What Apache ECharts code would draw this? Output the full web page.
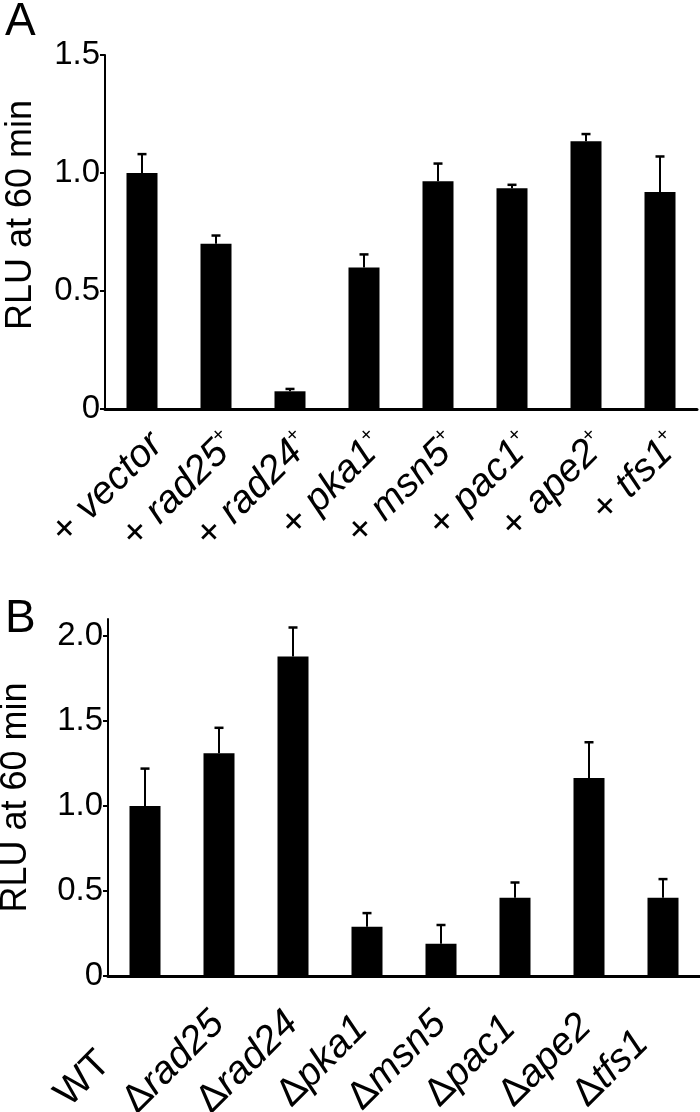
<!DOCTYPE html>
<html>
<head>
<meta charset="utf-8">
<script src="https://cdn.jsdelivr.net/npm/echarts@6/dist/echarts.min.js"></script>
<style>html,body{margin:0;padding:0;background:#fff}#c{width:700px;height:1112px}</style>
</head>
<body>
<div id="c"></div>
<script>
// Panel A
const genesA = ['vector', 'rad25', 'rad24', 'pka1', 'msn5', 'pac1', 'ape2', 'tfs1'];
const valuesA = [1.00, 0.70, 0.075, 0.60, 0.965, 0.935, 1.135, 0.92];
const errorsA = [0.08, 0.035, 0.01, 0.055, 0.075, 0.015, 0.03, 0.15];
const ticksA = [0, 0.5, 1.0, 1.5];
// Panel B
const genesB = ['WT', 'rad25', 'rad24', 'pka1', 'msn5', 'pac1', 'ape2', 'tfs1'];
const valuesB = [1.00, 1.31, 1.88, 0.29, 0.19, 0.46, 1.165, 0.46];
const errorsB = [0.22, 0.15, 0.17, 0.08, 0.11, 0.09, 0.21, 0.11];
const ticksB = [0, 0.5, 1.0, 1.5, 2.0];
const yTitle = 'RLU at 60 min';

const FONT = 'Liberation Sans, Arial, sans-serif';
const LBL = 39;
const chart = echarts.init(document.getElementById('c'), null, {renderer: 'canvas'});

function fmtTick(v) { return v === 0 ? '0' : v.toFixed(1); }

function errSeries(xi, yi, vals, errs) {
  return {
    type: 'custom', xAxisIndex: xi, yAxisIndex: yi, z: 3,
    data: vals.map((v, i) => [i, v, v + errs[i]]),
    renderItem: function (params, api) {
      const base = api.coord([api.value(0), api.value(1)]);
      const top = api.coord([api.value(0), api.value(2)]);
      const hw = 4.5;
      return {
        type: 'group',
        children: [
          {type: 'line', shape: {x1: base[0], y1: base[1], x2: top[0], y2: top[1]}, style: {stroke: '#000', lineWidth: 2}},
          {type: 'line', shape: {x1: top[0] - hw, y1: top[1], x2: top[0] + hw, y2: top[1]}, style: {stroke: '#000', lineWidth: 2.5}}
        ]
      };
    }
  };
}

// measure label widths so panel B labels can start-align inside a fixed box
const mctx = document.createElement('canvas').getContext('2d');
function textW(t, italic) {
  mctx.font = (italic ? 'italic ' : '') + LBL + 'px "Liberation Sans", Arial, sans-serif';
  return mctx.measureText(t).width;
}
const BOXB = 118;

const yAxisCommon = {
  type: 'value', min: 0,
  axisLine: {show: true, lineStyle: {color: '#000', width: 2}},
  axisTick: {show: true, inside: false, length: 5, lineStyle: {color: '#000', width: 2}},
  splitLine: {show: false},
  axisLabel: {color: '#000', fontFamily: FONT, fontSize: 33, margin: 5, formatter: fmtTick},
  name: yTitle, nameLocation: 'middle', nameRotate: 90,
  nameTextStyle: {color: '#000', fontFamily: FONT, fontSize: 36}
};

const xAxisCommon = {
  type: 'category',
  axisLine: {show: true, onZero: false, lineStyle: {color: '#000', width: 3}},
  axisTick: {show: false},
  splitLine: {show: false}
};

const richA = {
  n: {fontFamily: FONT, fontSize: LBL, color: '#000', lineHeight: 42},
  i: {fontFamily: FONT, fontSize: LBL, fontStyle: 'italic', color: '#000', lineHeight: 42},
  s: {fontFamily: FONT, fontSize: 20, color: '#000', lineHeight: 42, verticalAlign: 'top', padding: [0, 0, 22, 0]}
};
const richB = Object.assign({}, richA);
genesB.forEach((g, k) => {
  const w = g === 'WT' ? textW('WT', false) : textW('Δ', false) + textW(g, true);
  richB['p' + k] = {fontSize: LBL, lineHeight: 42, width: Math.max(1, BOXB - w)};
});

const option = {
  backgroundColor: '#fff',
  animation: false,
  title: [
    {text: 'A', left: 0, top: -6, textStyle: {fontFamily: FONT, fontSize: 46, fontWeight: 'normal', color: '#000'}},
    {text: 'B', left: 0, top: 591, textStyle: {fontFamily: FONT, fontSize: 46, fontWeight: 'normal', color: '#000'}}
  ],
  grid: [
    {left: 105, right: 3, top: 55, height: 354, containLabel: false, outerBoundsMode: 'none'},
    {left: 108, right: 0, top: 619, height: 357, containLabel: false, outerBoundsMode: 'none'}
  ],
  xAxis: [
    Object.assign({}, xAxisCommon, {
      gridIndex: 0, data: genesA,
      axisLabel: {rotate: 45, margin: 15, interval: 0, verticalAlign: 'top', rich: richA,
        formatter: g => '{n|+ }{i|' + g + '}' + (g === 'vector' ? '' : '{s|+}')}
    }),
    Object.assign({}, xAxisCommon, {
      gridIndex: 1, data: genesB,
      axisLabel: {rotate: 45, margin: 41, interval: 0, rich: richB,
        formatter: (g, k) => (g === 'WT' ? '{n|WT}' : '{n|Δ}{i|' + g + '}') + '{p' + k + '| }'}
    })
  ],
  yAxis: [
    Object.assign({}, yAxisCommon, {gridIndex: 0, max: 1.5, interval: 0.5, nameGap: 66,
      nameTextStyle: Object.assign({}, yAxisCommon.nameTextStyle, {padding: [0, 0, 0, 34]}),
      axisLabel: Object.assign({}, yAxisCommon.axisLabel, {customValues: ticksA}),
      axisTick: Object.assign({}, yAxisCommon.axisTick, {customValues: ticksA})}),
    Object.assign({}, yAxisCommon, {gridIndex: 1, max: 2.1, interval: 0.5, nameGap: 74,
      axisLabel: Object.assign({}, yAxisCommon.axisLabel, {customValues: ticksB}),
      axisTick: Object.assign({}, yAxisCommon.axisTick, {customValues: ticksB})})
  ],
  series: [
    {type: 'bar', xAxisIndex: 0, yAxisIndex: 0, data: valuesA, barWidth: 31, itemStyle: {color: '#000'}, z: 2},
    errSeries(0, 0, valuesA, errorsA),
    {type: 'bar', xAxisIndex: 1, yAxisIndex: 1, data: valuesB, barWidth: 31, itemStyle: {color: '#000'}, z: 2},
    errSeries(1, 1, valuesB, errorsB)
  ]
};
chart.setOption(option);
</script>
</body>
</html>
